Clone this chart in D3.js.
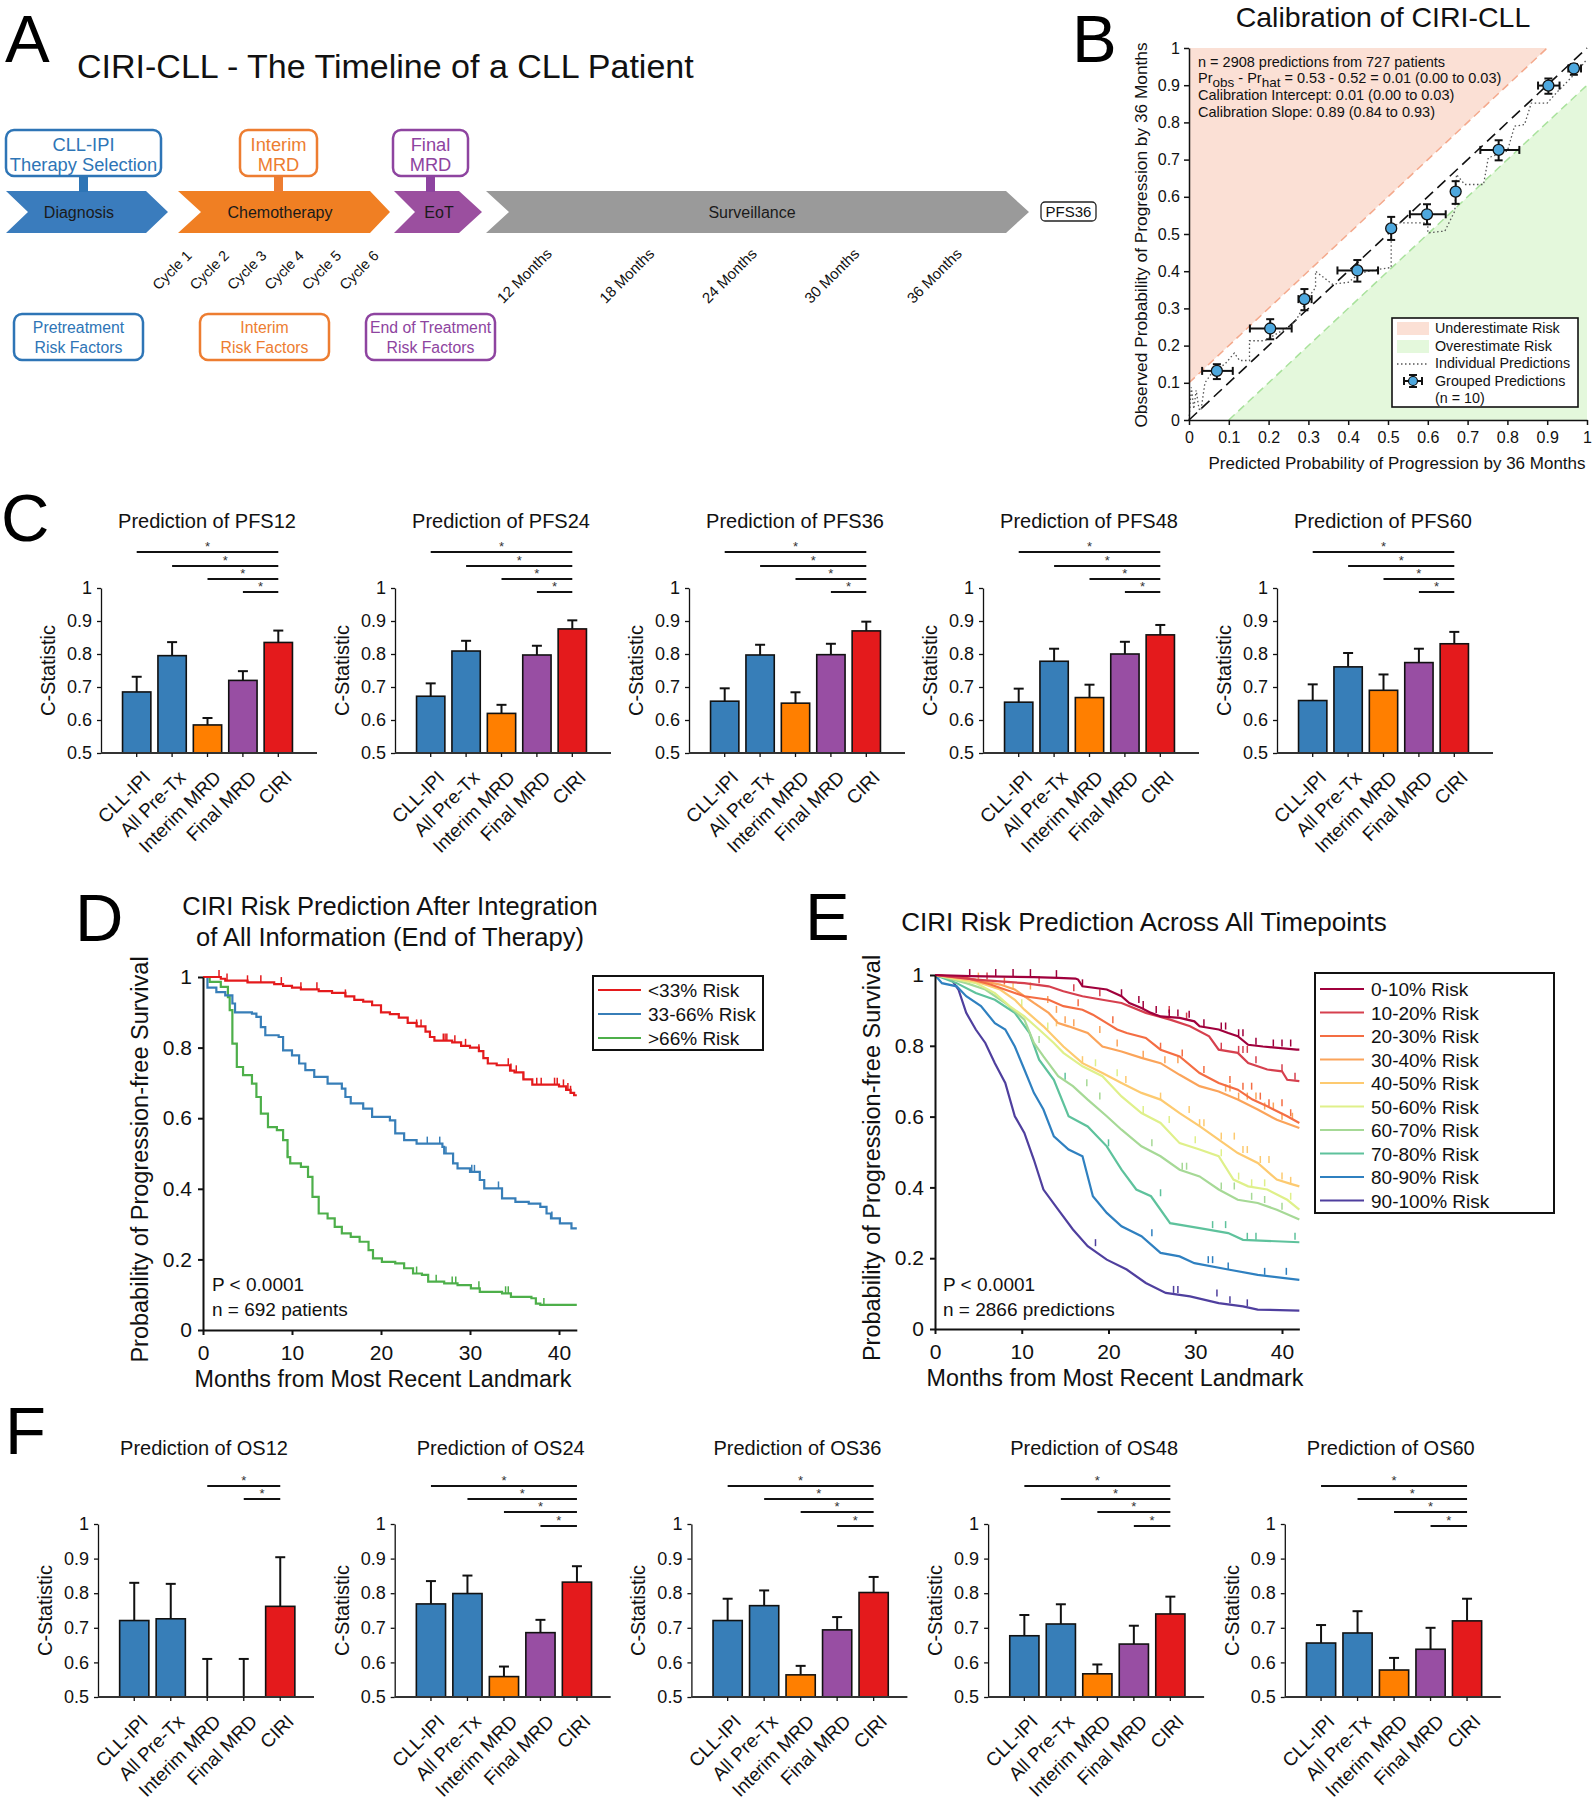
<!DOCTYPE html>
<html>
<head>
<meta charset="utf-8">
<script src="https://cdn.jsdelivr.net/npm/d3@7"></script>
<style>
body { margin: 0; background: #fff; }
svg { display: block; font-family: "Liberation Sans", Arial, sans-serif; }
</style>
</head>
<body>
<div id="fig"></div>
<script>
var width = 1592, height = 1800;

// ---------- panel A ----------
var stages = ["Diagnosis", "Chemotherapy", "EoT", "Surveillance"];
var stageColors = ["#3a7cbd", "#f07f23", "#9b4f9f", "#9a9a9a"];
var topBoxes = [["CLL-IPI", "Therapy Selection"], ["Interim", "MRD"], ["Final", "MRD"]];
var bottomBoxes = [["Pretreatment", "Risk Factors"], ["Interim", "Risk Factors"], ["End of Treatment", "Risk Factors"]];
var boxColors = ["#2e75b6", "#ed7d31", "#8e44a0"];
var cycles = ["Cycle 1", "Cycle 2", "Cycle 3", "Cycle 4", "Cycle 5", "Cycle 6"];
var months = ["12 Months", "18 Months", "24 Months", "30 Months", "36 Months"];

// ---------- panel B ----------
var grpX   = [0.070, 0.204, 0.290, 0.423, 0.508, 0.598, 0.670, 0.778, 0.903, 0.967];
var grpY   = [0.132, 0.246, 0.325, 0.402, 0.515, 0.553, 0.614, 0.726, 0.899, 0.945];
var grpXlo = [0.033, 0.153, 0.275, 0.373, 0.500, 0.555, 0.662, 0.732, 0.877, 0.953];
var grpXhi = [0.110, 0.258, 0.308, 0.475, 0.517, 0.645, 0.678, 0.830, 0.931, 0.985];
var grpYlo = [0.110, 0.217, 0.295, 0.372, 0.484, 0.526, 0.581, 0.698, 0.877, 0.928];
var grpYhi = [0.150, 0.271, 0.352, 0.430, 0.546, 0.580, 0.642, 0.752, 0.918, 0.957];
var indivX = [0, 0.006, 0.012, 0.018, 0.025, 0.03, 0.04, 0.06, 0.09, 0.114, 0.127, 0.152, 0.152, 0.19, 0.25, 0.27, 0.30, 0.318, 0.318, 0.36, 0.40, 0.43, 0.477, 0.508, 0.508, 0.527, 0.60, 0.60, 0.643, 0.668, 0.672, 0.693, 0.74, 0.752, 0.80, 0.818, 0.843, 0.86, 0.90, 0.927, 0.96, 0.985, 1];
var indivY = [0, 0.088, 0.03, 0.08, 0.03, 0.025, 0.10, 0.13, 0.15, 0.18, 0.16, 0.16, 0.213, 0.213, 0.25, 0.27, 0.33, 0.356, 0.40, 0.365, 0.37, 0.395, 0.405, 0.41, 0.513, 0.53, 0.53, 0.503, 0.508, 0.562, 0.66, 0.633, 0.633, 0.705, 0.723, 0.79, 0.794, 0.852, 0.852, 0.884, 0.92, 0.95, 0.97];
var bText = ["n = 2908 predictions from 727 patients", "Calibration Intercept: 0.01 (0.00 to 0.03)", "Calibration Slope: 0.89 (0.84 to 0.93)"];

// ---------- panels C and F ----------
var models = ["CLL-IPI", "All Pre-Tx", "Interim MRD", "Final MRD", "CIRI"];
var modelColors = ["#377eb8", "#377eb8", "#ff7f00", "#984ea3", "#e41a1c"];
var pfsTitles = ["Prediction of PFS12", "Prediction of PFS24", "Prediction of PFS36", "Prediction of PFS48", "Prediction of PFS60"];
var pfsC = [
  [0.685, 0.795, 0.585, 0.720, 0.835],
  [0.672, 0.809, 0.620, 0.797, 0.876],
  [0.657, 0.797, 0.651, 0.798, 0.870],
  [0.654, 0.778, 0.668, 0.800, 0.858],
  [0.659, 0.761, 0.690, 0.774, 0.831]
];
var pfsUpper = [
  [0.731, 0.836, 0.606, 0.748, 0.871],
  [0.711, 0.840, 0.646, 0.825, 0.902],
  [0.696, 0.828, 0.684, 0.831, 0.898],
  [0.695, 0.816, 0.707, 0.837, 0.888],
  [0.708, 0.803, 0.738, 0.816, 0.867]
];
var osTitles = ["Prediction of OS12", "Prediction of OS24", "Prediction of OS36", "Prediction of OS48", "Prediction of OS60"];
var osC = [
  [0.721, 0.726, 0.500, 0.500, 0.762],
  [0.769, 0.799, 0.559, 0.686, 0.832],
  [0.721, 0.764, 0.564, 0.694, 0.802],
  [0.677, 0.711, 0.567, 0.653, 0.740],
  [0.656, 0.685, 0.578, 0.638, 0.720]
];
var osUpper = [
  [0.830, 0.827, 0.610, 0.610, 0.904],
  [0.835, 0.851, 0.588, 0.723, 0.878],
  [0.784, 0.808, 0.590, 0.731, 0.847],
  [0.737, 0.768, 0.594, 0.706, 0.790],
  [0.708, 0.748, 0.613, 0.700, 0.784]
];
// significance vs CIRI: [compared model, row]
var sigAll = [["CLL-IPI", 0], ["All Pre-Tx", 1], ["Interim MRD", 2], ["Final MRD", 3]];
var sigOS12 = [["Interim MRD", 0], ["Final MRD", 1]];

// ---------- panel D ----------
var dLabels = ["<33% Risk", "33-66% Risk", ">66% Risk"];
var dColors = ["#e41a1c", "#377eb8", "#4daf4a"];
var dLow = [[0,1],[2,0.995],[2.5,0.99],[5,0.985],[8,0.98],[9,0.975],[10,0.97],[11,0.965],[13,0.96],[14.5,0.955],[16,0.945],[17,0.935],[18,0.93],[19,0.92],[20,0.9],[21,0.895],[22,0.885],[23,0.87],[24,0.86],[25,0.845],[25.5,0.83],[26,0.82],[28,0.815],[29,0.805],[30,0.8],[31,0.79],[31.5,0.77],[32,0.755],[33,0.75],[34.5,0.735],[35,0.73],[36,0.71],[37,0.695],[40,0.69],[40.8,0.68],[41.3,0.672],[41.7,0.665],[42,0.665]];
var dMid = [[0,1],[0.5,0.97],[1.5,0.957],[2.5,0.948],[3.3,0.925],[3.6,0.9],[5.5,0.896],[6,0.887],[6.5,0.858],[7,0.835],[8.5,0.83],[9,0.792],[10,0.778],[10.8,0.755],[11.5,0.736],[12.5,0.717],[14,0.698],[15.6,0.684],[16,0.66],[16.6,0.642],[18,0.627],[19,0.604],[21,0.594],[21.6,0.557],[22.6,0.538],[24,0.528],[26.9,0.519],[27.1,0.5],[28.1,0.472],[28.6,0.458],[30,0.448],[31.1,0.425],[31.6,0.401],[33.6,0.373],[35.1,0.363],[36.6,0.358],[37.9,0.349],[38.6,0.33],[39.1,0.316],[40.1,0.302],[41.4,0.288],[42,0.288]];
var dHigh = [[0,1],[0.75,0.986],[2,0.972],[2.8,0.943],[3,0.906],[3.3,0.811],[3.8,0.745],[4.5,0.722],[5.5,0.698],[6,0.66],[6.5,0.613],[7.3,0.575],[8.3,0.566],[9,0.538],[9.5,0.49],[9.8,0.472],[11,0.462],[11.8,0.434],[12.3,0.377],[13,0.33],[14,0.316],[14.8,0.292],[15.6,0.274],[16.6,0.264],[17.6,0.25],[18.6,0.226],[19.1,0.203],[20.1,0.193],[21.6,0.189],[22.6,0.175],[23.6,0.16],[24.6,0.156],[25.3,0.137],[27.1,0.132],[28.6,0.127],[30.1,0.118],[31.1,0.108],[33.6,0.104],[34.6,0.094],[36.9,0.09],[37.4,0.075],[37.9,0.071],[42,0.071]];
var dCensor = [
  [1.8, 2.7, 5, 6.5, 8.8, 11, 12.8, 16, 24, 24.5, 27, 27.2, 27.4, 28.3, 29.5, 31, 34.3, 34.6, 35.2, 36, 37.5, 38, 39.5, 39.8, 40.5, 41, 41.3],
  [25.2, 26.6, 27.3, 30.2, 30.5, 33.2, 39.2],
  [9.5, 24, 26.2, 28, 28.4, 31, 34, 34.3, 38.3]
];

// ---------- panel E ----------
var eLabels = ["0-10% Risk", "10-20% Risk", "20-30% Risk", "30-40% Risk", "40-50% Risk", "50-60% Risk", "60-70% Risk", "70-80% Risk", "80-90% Risk", "90-100% Risk"];
var eColors = ["#a0003c", "#d6404e", "#f46d43", "#fba45a", "#fdca70", "#dff08a", "#a6d996", "#5ec29c", "#2f80c0", "#4f3f9e"];
var eCurves = [
  [[0,1],[4,0.997],[11.4,0.994],[14.2,0.992],[16.2,0.99],[16.5,0.987],[17,0.968],[19.8,0.959],[21.5,0.94],[22.4,0.921],[23.8,0.907],[24.9,0.893],[26,0.883],[28.2,0.879],[29.9,0.869],[30.5,0.855],[32.7,0.846],[33.8,0.836],[34.9,0.827],[36.1,0.803],[37.8,0.798],[41.7,0.789],[42,0.789]],
  [[0,1],[4.7,0.987],[7.5,0.982],[10.3,0.977],[13.1,0.968],[14.8,0.954],[17,0.94],[19.3,0.93],[21.5,0.921],[24.3,0.893],[27.1,0.874],[29.4,0.855],[31.6,0.827],[32.7,0.789],[34.9,0.78],[36.1,0.751],[38.3,0.733],[40,0.728],[40.6,0.704],[42,0.7]],
  [[0,1],[3.6,0.992],[6.4,0.973],[9.2,0.949],[10.3,0.94],[13.1,0.93],[14.8,0.912],[17,0.902],[18.2,0.888],[19.8,0.864],[21,0.846],[22.1,0.836],[24.3,0.822],[26,0.789],[28.2,0.77],[30.5,0.723],[32.7,0.695],[34.9,0.676],[36.6,0.648],[38.3,0.629],[40.6,0.601],[42,0.582]],
  [[0,1],[4.7,0.987],[7.5,0.973],[9.2,0.959],[11.4,0.921],[13.1,0.893],[14.2,0.864],[15.4,0.855],[17.6,0.836],[19.3,0.798],[21.5,0.784],[23.8,0.766],[26,0.751],[28.2,0.718],[30.5,0.686],[32.7,0.671],[34.9,0.648],[37.2,0.62],[39.4,0.591],[42,0.568]],
  [[0,1],[4.7,0.982],[7.5,0.959],[9.2,0.93],[10.3,0.902],[12.5,0.855],[14.8,0.798],[17,0.751],[19.3,0.723],[21.5,0.695],[23.8,0.667],[26,0.648],[28.2,0.61],[30.5,0.573],[32.7,0.535],[34.9,0.497],[37.2,0.469],[39.4,0.422],[41,0.41],[42,0.403]],
  [[0,1],[4.7,0.977],[6.9,0.949],[8.6,0.912],[10.3,0.883],[12,0.846],[13.7,0.808],[14.8,0.78],[17,0.742],[19.3,0.714],[21.5,0.657],[23.8,0.61],[26,0.582],[28.2,0.525],[30.5,0.507],[32.7,0.488],[34.4,0.422],[36.1,0.403],[38.3,0.394],[40.6,0.365],[42,0.337]],
  [[0,1],[3.6,0.977],[5.8,0.959],[8.1,0.921],[10.3,0.874],[11.4,0.808],[12.5,0.77],[14.2,0.714],[15.9,0.686],[17.6,0.648],[19.8,0.601],[21.5,0.563],[23.8,0.516],[26,0.488],[28.2,0.45],[30.5,0.431],[32.7,0.394],[34.9,0.365],[37.2,0.356],[39.4,0.337],[42,0.309]],
  [[0,1],[2.5,0.977],[4.7,0.949],[6.9,0.93],[9.2,0.893],[10.9,0.836],[12,0.761],[13.7,0.704],[15.4,0.601],[17.6,0.572],[19.8,0.516],[21.5,0.45],[23.2,0.394],[24.9,0.375],[27.1,0.299],[30.5,0.285],[33.8,0.271],[35.5,0.252],[42,0.245]],
  [[0,1],[0.8,0.977],[2.5,0.968],[3.6,0.94],[5.3,0.912],[6.9,0.864],[8.1,0.846],[9.2,0.798],[10.3,0.733],[11.4,0.667],[12.5,0.62],[13.7,0.544],[15.4,0.507],[17,0.488],[18.2,0.375],[19.8,0.328],[21.5,0.29],[23.8,0.262],[26,0.215],[28.2,0.205],[29.9,0.186],[33.8,0.168],[37.2,0.153],[42,0.139]],
  [[0,1],[1.9,0.987],[2.7,0.959],[3.6,0.893],[4.7,0.846],[5.8,0.808],[6.9,0.751],[8.1,0.695],[9.2,0.601],[10.3,0.554],[11.4,0.478],[12.5,0.394],[14.2,0.337],[15.9,0.281],[17.6,0.234],[19.8,0.196],[22.1,0.168],[24.3,0.13],[26.6,0.102],[29.4,0.092],[32.7,0.073],[35.5,0.064],[37.2,0.055],[42,0.052]]
];
var eCensor = [
  [4, 7, 9, 11, 14, 17, 21.5, 23.5, 24, 25.5, 27, 28, 29.3, 31, 33, 33.5, 35, 35.5, 37, 39, 40, 41],
  [6, 12, 16, 19, 27, 29, 33, 35, 35.5, 36, 37, 40, 41.5],
  [8, 16.5, 20.5, 26, 28.5, 31, 34, 35.5, 36.5, 37.5, 38.5, 40, 41],
  [5, 11, 13, 14, 15, 16, 19, 21, 24, 26.5, 28, 33.5, 34, 35, 36, 37, 38, 39, 40, 41.2],
  [9, 14, 17, 22, 26, 29.3, 30.5, 31, 33, 34.5, 35.5, 36, 37.5, 38.5, 40, 41],
  [10, 13, 18.5, 21, 24, 27, 30, 33, 35, 36.5, 38, 41],
  [12, 17.5, 19, 25, 28.5, 29, 33, 34.5, 36.5, 38, 40],
  [15, 20, 26, 32, 33.5, 36, 37, 41.5],
  [25, 31.5, 32, 33.8, 38, 40.5],
  [18.5, 27.5, 28, 32.5, 34, 36]
];

var svg = d3.select("#fig").append("svg")
  .attr("width", width)
  .attr("height", height);

function letter(t, x, y) {
  svg.append("text").attr("x", x).attr("y", y).attr("font-size", 67).text(t);
}

function ctext(g, x, y, size, t, color) {
  return g.append("text").attr("x", x).attr("y", y).attr("font-size", size)
    .attr("text-anchor", "middle").attr("fill", color || "#111").text(t);
}

function styleAxis(sel, w) {
  sel.select(".domain").attr("stroke", "#111").attr("stroke-width", w || 1.5);
  sel.selectAll(".tick line").attr("stroke", "#111").attr("stroke-width", w || 1.5);
  sel.selectAll(".tick text").attr("fill", "#111");
}

// ================= A: timeline =================
letter("A", 5, 62);
svg.append("text").attr("x", 77).attr("y", 78).attr("font-size", 34).attr("fill", "#111")
  .text("CIRI-CLL - The Timeline of a CLL Patient");

var gA = svg.append("g");
var chev = [[6, 28, 146, 168], [178, 201, 370, 390], [394, 415, 459, 482], [486, 509, 1006, 1029]];
var aTop = 191, aBot = 233, aMid = 212;
stages.forEach(function(s, i) {
  var c = chev[i];
  var pts = [[c[0], aTop], [c[2], aTop], [c[3], aMid], [c[2], aBot], [c[0], aBot], [c[1], aMid]];
  gA.append("path").attr("d", d3.line()(pts) + "Z").attr("fill", stageColors[i]);
});
var stageLabelX = [79, 280, 439, 752];
stages.forEach(function(s, i) {
  ctext(gA, stageLabelX[i], aMid + 6, 16, s, "#1a1a1a");
});

var topBoxX = [[6, 161], [240, 317], [393, 468]];
topBoxes.forEach(function(lines, i) {
  var b = topBoxX[i], cx = (b[0] + b[1]) / 2;
  gA.append("rect").attr("x", cx - 4.5).attr("y", 176).attr("width", 9).attr("height", 16).attr("fill", boxColors[i]);
  gA.append("rect").attr("x", b[0]).attr("y", 130).attr("width", b[1] - b[0]).attr("height", 46)
    .attr("rx", 8).attr("fill", "#fff").attr("stroke", boxColors[i]).attr("stroke-width", 2.5);
  ctext(gA, cx, 151, 18.3, lines[0], boxColors[i]);
  ctext(gA, cx, 171, 18.3, lines[1], boxColors[i]);
});

var botBoxX = [[14, 143], [200, 329], [366, 495]];
bottomBoxes.forEach(function(lines, i) {
  var b = botBoxX[i], cx = (b[0] + b[1]) / 2;
  gA.append("rect").attr("x", b[0]).attr("y", 314).attr("width", b[1] - b[0]).attr("height", 46)
    .attr("rx", 8).attr("fill", "#fff").attr("stroke", boxColors[i]).attr("stroke-width", 2.5);
  ctext(gA, cx, 333, 15.8, lines[0], boxColors[i]);
  ctext(gA, cx, 353, 15.8, lines[1], boxColors[i]);
});

cycles.forEach(function(c, i) {
  gA.append("text").attr("transform", "translate(" + (189 + 37.4 * i) + ",253) rotate(-45)")
    .attr("text-anchor", "end").attr("dy", "0.35em").attr("font-size", 14.5).attr("fill", "#111").text(c);
});
months.forEach(function(m, i) {
  gA.append("text").attr("transform", "translate(" + (549 + 102.5 * i) + ",251) rotate(-45)")
    .attr("text-anchor", "end").attr("dy", "0.35em").attr("font-size", 15).attr("fill", "#111").text(m);
});
gA.append("rect").attr("x", 1041).attr("y", 202).attr("width", 55).attr("height", 19).attr("rx", 4)
  .attr("fill", "#fff").attr("stroke", "#222").attr("stroke-width", 1.3);
ctext(gA, 1068.5, 217, 15, "PFS36", "#111");

// ================= B: calibration =================
letter("B", 1072, 62);
var gB = svg.append("g");
var bx = d3.scaleLinear().domain([0, 1]).range([1189, 1587]);
var by = d3.scaleLinear().domain([0, 1]).range([420, 48]);
var bLine = d3.line().x(function(d) { return bx(d[0]); }).y(function(d) { return by(d[1]); });
ctext(gB, 1383, 27, 28.5, "Calibration of CIRI-CLL");

gB.append("path").attr("d", bLine([[0, 0.1], [0, 1], [0.9, 1]]) + "Z").attr("fill", "#fbe0d5");
gB.append("path").attr("d", bLine([[0.1, 0], [1, 0], [1, 0.9]]) + "Z").attr("fill", "#e4f8dc");
gB.append("path").attr("d", bLine([[0, 0.1], [0.9, 1]])).attr("stroke", "#f4a98c").attr("stroke-width", 1.5)
  .attr("stroke-dasharray", "8,5").attr("fill", "none");
gB.append("path").attr("d", bLine([[0.1, 0], [1, 0.9]])).attr("stroke", "#a9e29c").attr("stroke-width", 1.5)
  .attr("stroke-dasharray", "8,5").attr("fill", "none");
gB.append("path").attr("d", bLine([[0, 0], [1, 1]])).attr("stroke", "#111").attr("stroke-width", 1.6)
  .attr("stroke-dasharray", "11,6").attr("fill", "none");
gB.append("path").attr("d", bLine(indivX.map(function(v, i) { return [v, indivY[i]]; })))
  .attr("stroke", "#555").attr("stroke-width", 1.3).attr("stroke-dasharray", "1.5,2.5").attr("fill", "none");

var grp = grpX.map(function(v, i) {
  return { x: v, y: grpY[i], xl: grpXlo[i], xh: grpXhi[i], yl: grpYlo[i], yh: grpYhi[i] };
});
var ge = gB.selectAll(".grp").data(grp).enter().append("g").attr("class", "grp")
  .attr("stroke", "#111").attr("stroke-width", 2);
ge.append("line").attr("x1", function(d) { return bx(d.xl); }).attr("x2", function(d) { return bx(d.xh); })
  .attr("y1", function(d) { return by(d.y); }).attr("y2", function(d) { return by(d.y); });
ge.append("line").attr("x1", function(d) { return bx(d.x); }).attr("x2", function(d) { return bx(d.x); })
  .attr("y1", function(d) { return by(d.yl); }).attr("y2", function(d) { return by(d.yh); });
["xl", "xh"].forEach(function(k) {
  ge.append("line").attr("x1", function(d) { return bx(d[k]); }).attr("x2", function(d) { return bx(d[k]); })
    .attr("y1", function(d) { return by(d.y) - 4; }).attr("y2", function(d) { return by(d.y) + 4; });
});
["yl", "yh"].forEach(function(k) {
  ge.append("line").attr("x1", function(d) { return bx(d.x) - 4; }).attr("x2", function(d) { return bx(d.x) + 4; })
    .attr("y1", function(d) { return by(d[k]); }).attr("y2", function(d) { return by(d[k]); });
});
ge.append("circle").attr("cx", function(d) { return bx(d.x); }).attr("cy", function(d) { return by(d.y); })
  .attr("r", 5.5).attr("fill", "#4ea8de").attr("stroke-width", 1.3);

var tenths = d3.range(11).map(function(i) { return i / 10; });
var fmtB = function(d) { return d === 0 ? "0" : d === 1 ? "1" : d.toFixed(1); };
var bxa = gB.append("g").attr("transform", "translate(0,420)")
  .call(d3.axisBottom(bx).tickValues(tenths).tickFormat(fmtB).tickSize(5).tickSizeOuter(0).tickPadding(7));
bxa.selectAll("text").attr("font-size", 16);
styleAxis(bxa);
var bya = gB.append("g").attr("transform", "translate(1189,0)")
  .call(d3.axisLeft(by).tickValues(tenths).tickFormat(fmtB).tickSize(5).tickSizeOuter(0).tickPadding(4));
bya.selectAll("text").attr("font-size", 16);
styleAxis(bya);
ctext(gB, 1397, 469, 17, "Predicted Probability of Progression by 36 Months");
gB.append("text").attr("transform", "translate(1147,235) rotate(-90)").attr("text-anchor", "middle")
  .attr("font-size", 17.3).attr("fill", "#111").text("Observed Probability of Progression by 36 Months");

gB.append("text").attr("x", 1198).attr("y", 67).attr("font-size", 14.5).attr("fill", "#111").text(bText[0]);
var pr = gB.append("text").attr("x", 1198).attr("y", 83).attr("font-size", 14.5).attr("fill", "#111");
pr.append("tspan").text("Pr");
pr.append("tspan").attr("dy", 4).attr("font-size", 13.5).text("obs");
pr.append("tspan").attr("dy", -4).text(" - Pr");
pr.append("tspan").attr("dy", 4).attr("font-size", 13.5).text("hat");
pr.append("tspan").attr("dy", -4).text(" = 0.53 - 0.52 = 0.01 (0.00 to 0.03)");
gB.append("text").attr("x", 1198).attr("y", 100).attr("font-size", 14.5).attr("fill", "#111").text(bText[1]);
gB.append("text").attr("x", 1198).attr("y", 117).attr("font-size", 14.5).attr("fill", "#111").text(bText[2]);

var lgB = gB.append("g");
lgB.append("rect").attr("x", 1392).attr("y", 318).attr("width", 186).attr("height", 89)
  .attr("fill", "#fff").attr("stroke", "#111").attr("stroke-width", 1.6);
lgB.append("rect").attr("x", 1397).attr("y", 322).attr("width", 32).attr("height", 13).attr("fill", "#fbe0d5");
lgB.append("rect").attr("x", 1397).attr("y", 340).attr("width", 32).attr("height", 13).attr("fill", "#e4f8dc");
lgB.append("line").attr("x1", 1397).attr("x2", 1429).attr("y1", 364).attr("y2", 364)
  .attr("stroke", "#555").attr("stroke-width", 1.3).attr("stroke-dasharray", "1.5,2.5");
var lm = lgB.append("g").attr("stroke", "#111").attr("stroke-width", 2);
lm.append("line").attr("x1", 1404).attr("x2", 1422).attr("y1", 381).attr("y2", 381);
lm.append("line").attr("x1", 1413).attr("x2", 1413).attr("y1", 375).attr("y2", 387);
lm.append("line").attr("x1", 1404).attr("x2", 1404).attr("y1", 377).attr("y2", 385);
lm.append("line").attr("x1", 1422).attr("x2", 1422).attr("y1", 377).attr("y2", 385);
lm.append("line").attr("x1", 1409).attr("x2", 1417).attr("y1", 375).attr("y2", 375);
lm.append("line").attr("x1", 1409).attr("x2", 1417).attr("y1", 387).attr("y2", 387);
lm.append("circle").attr("cx", 1413).attr("cy", 381).attr("r", 4.5).attr("fill", "#4ea8de").attr("stroke-width", 1.2);
["Underestimate Risk", "Overestimate Risk", "Individual Predictions", "Grouped Predictions", "(n = 10)"].forEach(function(t, i) {
  lgB.append("text").attr("x", 1435).attr("y", 333 + 17.6 * i).attr("font-size", 14.3).attr("fill", "#111").text(t);
});

// ================= C and F: bar charts =================
function barPanel(axisX, yTop, yBot, step, title, titleY, vals, upper, sig, sigOff) {
  var g = svg.append("g");
  var x = d3.scaleBand().domain(models).range([axisX + 18, axisX + 18 + 5 * step])
    .paddingInner(0.2).paddingOuter(0.1);
  var y = d3.scaleLinear().domain([0.5, 1]).range([yBot, yTop]);
  var rows = models.map(function(m, i) { return { m: m, v: vals[i], u: upper[i], c: modelColors[i] }; });
  var cx = function(d) { return x(d.m) + x.bandwidth() / 2; };

  ctext(g, axisX + 106, titleY, 20, title);

  g.selectAll(".err").data(rows).enter().append("g").attr("class", "err")
    .each(function(d) {
      var e = d3.select(this);
      e.append("line").attr("x1", cx(d)).attr("x2", cx(d)).attr("y1", y(d.v)).attr("y2", y(d.u))
        .attr("stroke", "#111").attr("stroke-width", 2);
      e.append("line").attr("x1", cx(d) - 5).attr("x2", cx(d) + 5).attr("y1", y(d.u)).attr("y2", y(d.u))
        .attr("stroke", "#111").attr("stroke-width", 2);
    });
  g.selectAll(".bar").data(rows.filter(function(d) { return d.v > 0.5; })).enter().append("rect")
    .attr("class", "bar")
    .attr("x", function(d) { return x(d.m); })
    .attr("width", x.bandwidth())
    .attr("y", function(d) { return y(d.v); })
    .attr("height", function(d) { return y(0.5) - y(d.v); })
    .attr("fill", function(d) { return d.c; })
    .attr("stroke", "#111").attr("stroke-width", 1.6);

  var ya = g.append("g").attr("transform", "translate(" + axisX + ",0)")
    .call(d3.axisLeft(y).tickValues([0.5, 0.6, 0.7, 0.8, 0.9, 1])
      .tickFormat(function(d) { return d === 1 ? "1" : d.toFixed(1); })
      .tickSize(4).tickSizeOuter(0).tickPadding(5));
  ya.selectAll("text").attr("font-size", 18);
  styleAxis(ya, 1.3);
  g.append("line").attr("x1", axisX).attr("x2", axisX + 216).attr("y1", yBot).attr("y2", yBot)
    .attr("stroke", "#333").attr("stroke-width", 2.2);
  g.selectAll(".xt").data(rows).enter().append("line")
    .attr("x1", cx).attr("x2", cx).attr("y1", yBot).attr("y2", yBot + 4)
    .attr("stroke", "#111").attr("stroke-width", 1.3);
  g.selectAll(".xl").data(rows).enter().append("text")
    .attr("transform", function(d) { return "translate(" + (cx(d) + 10) + "," + (yBot + 21) + ") rotate(-45)"; })
    .attr("text-anchor", "end").attr("dy", "0.35em").attr("font-size", 19).attr("fill", "#111")
    .text(function(d) { return d.m; });
  g.append("text").attr("transform", "translate(" + (axisX - 46) + "," + ((yTop + yBot) / 2) + ") rotate(-90)")
    .attr("text-anchor", "middle").attr("font-size", 20).attr("fill", "#111").text("C-Statistic");

  var ciriX = x("CIRI") + x.bandwidth() / 2;
  sig.forEach(function(s) {
    var ly = yTop + sigOff[s[1]];
    var sx = x(s[0]) + x.bandwidth() / 2;
    g.append("line").attr("x1", sx).attr("x2", ciriX).attr("y1", ly).attr("y2", ly)
      .attr("stroke", "#111").attr("stroke-width", 2);
    ctext(g, (sx + ciriX) / 2, ly - 1, 13, "*", "#333");
  });
}

letter("C", 1, 541);
pfsTitles.forEach(function(t, i) {
  barPanel(101 + 294 * i, 588, 753, 35.4, t, 528, pfsC[i], pfsUpper[i], sigAll, [-36, -22, -9, 4]);
});
letter("F", 5, 1454);
osTitles.forEach(function(t, i) {
  barPanel(98 + 296.7 * i, 1524, 1697, 36.5, t, 1455, osC[i], osUpper[i], i === 0 ? sigOS12 : sigAll, [-38, -25, -12, 2]);
});

// ================= D and E: Kaplan-Meier =================
function survAt(curve, t) {
  var s = curve[0][1];
  curve.forEach(function(p) { if (p[0] <= t) s = p[1]; });
  return s;
}

function kmPanel(x0, x40, yTopPx, yBotPx, curves, colors, censors, stepped) {
  var g = svg.append("g");
  var x = d3.scaleLinear().domain([0, 42]).range([x0, x0 + (x40 - x0) * 42 / 40]);
  var y = d3.scaleLinear().domain([0, 1]).range([yBotPx, yTopPx]);
  var line = d3.line().x(function(d) { return x(d[0]); }).y(function(d) { return y(d[1]); })
    .curve(stepped ? d3.curveStepAfter : d3.curveLinear);
  for (var i = curves.length - 1; i >= 0; i--) {
    g.append("path").attr("d", line(curves[i])).attr("fill", "none")
      .attr("stroke", colors[i]).attr("stroke-width", 2.2);
    var c = curves[i];
    g.selectAll(null).data(censors[i]).enter().append("line")
      .attr("x1", function(t) { return x(t); }).attr("x2", function(t) { return x(t); })
      .attr("y1", function(t) { return y(survAt(c, t)); })
      .attr("y2", function(t) { return y(survAt(c, t)) - 7; })
      .attr("stroke", colors[i]).attr("stroke-width", 1.5);
  }
  var xa = g.append("g").attr("transform", "translate(0," + yBotPx + ")")
    .call(d3.axisBottom(x).tickValues([0, 10, 20, 30, 40]).tickSize(5).tickSizeOuter(0).tickPadding(10));
  xa.selectAll("text").attr("font-size", 21);
  styleAxis(xa, 2);
  var ya = g.append("g").attr("transform", "translate(" + x0 + ",0)")
    .call(d3.axisLeft(y).tickValues([0, 0.2, 0.4, 0.6, 0.8, 1])
      .tickFormat(function(d) { return d === 0 ? "0" : d === 1 ? "1" : d.toFixed(1); })
      .tickSize(5).tickSizeOuter(0).tickPadding(6));
  ya.selectAll("text").attr("font-size", 21);
  styleAxis(ya, 2);
  ctext(g, x0 + 180, yBotPx + 57, 23.3, "Months from Most Recent Landmark");
  g.append("text").attr("transform", "translate(" + (x0 - 55) + "," + ((yTopPx + yBotPx) / 2 + 6) + ") rotate(-90)")
    .attr("text-anchor", "middle").attr("font-size", 23.5).attr("fill", "#111")
    .text("Probability of Progression-free Survival");
  return g;
}

letter("D", 75, 941);
ctext(svg, 390, 915, 25.5, "CIRI Risk Prediction After Integration");
ctext(svg, 390, 946, 25.5, "of All Information (End of Therapy)");
var gD = kmPanel(203, 559, 977, 1330, [dLow, dMid, dHigh], dColors, dCensor, true);
gD.append("text").attr("x", 212).attr("y", 1291).attr("font-size", 19).attr("fill", "#111").text("P < 0.0001");
gD.append("text").attr("x", 212).attr("y", 1316).attr("font-size", 19).attr("fill", "#111").text("n = 692 patients");
gD.append("rect").attr("x", 593).attr("y", 976).attr("width", 170).attr("height", 74)
  .attr("fill", "#fff").attr("stroke", "#111").attr("stroke-width", 2);
dLabels.forEach(function(t, i) {
  var ly = 990 + 24 * i;
  gD.append("line").attr("x1", 598).attr("x2", 641).attr("y1", ly).attr("y2", ly)
    .attr("stroke", dColors[i]).attr("stroke-width", 2.2);
  gD.append("text").attr("x", 648).attr("y", ly + 7).attr("font-size", 19).attr("fill", "#111").text(t);
});

letter("E", 805, 940);
ctext(svg, 1144, 931, 26, "CIRI Risk Prediction Across All Timepoints");
var gE = kmPanel(935, 1282, 975, 1329, eCurves, eColors, eCensor, false);
gE.append("text").attr("x", 943).attr("y", 1291).attr("font-size", 19).attr("fill", "#111").text("P < 0.0001");
gE.append("text").attr("x", 943).attr("y", 1316).attr("font-size", 19).attr("fill", "#111").text("n = 2866 predictions");
gE.append("rect").attr("x", 1315).attr("y", 973).attr("width", 239).attr("height", 240)
  .attr("fill", "#fff").attr("stroke", "#111").attr("stroke-width", 2);
eLabels.forEach(function(t, i) {
  var ly = 989 + 23.5 * i;
  gE.append("line").attr("x1", 1320).attr("x2", 1364).attr("y1", ly).attr("y2", ly)
    .attr("stroke", eColors[i]).attr("stroke-width", 2.2);
  gE.append("text").attr("x", 1371).attr("y", ly + 7).attr("font-size", 19).attr("fill", "#111").text(t);
});
</script>
</body>
</html>
